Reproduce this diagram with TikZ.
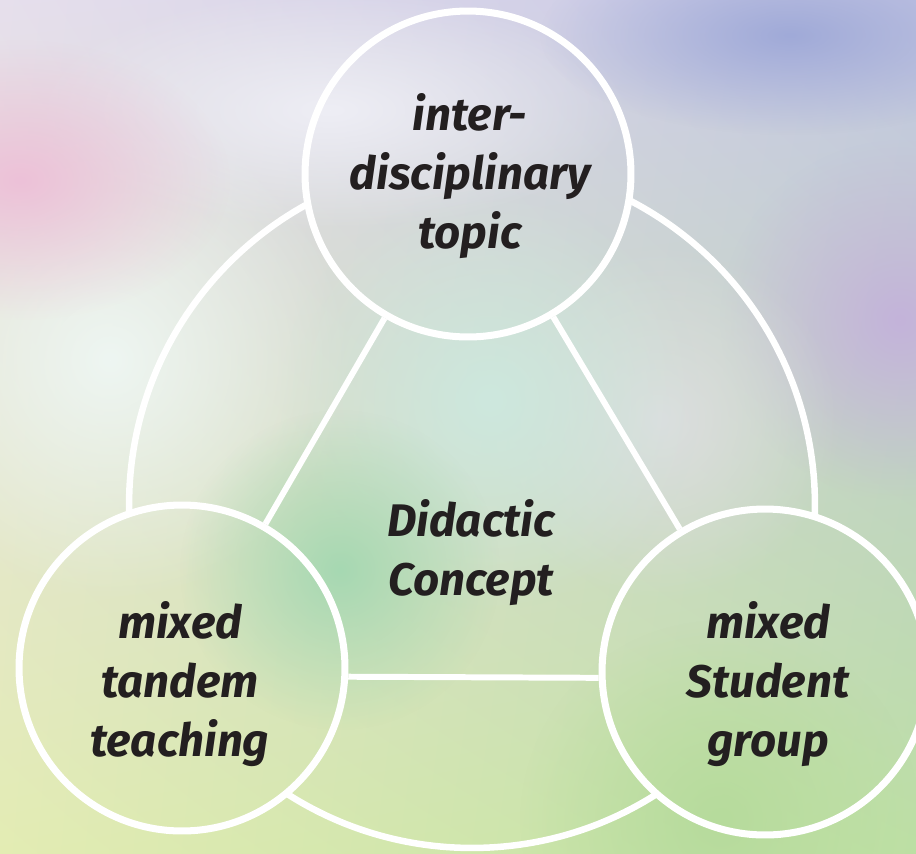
\documentclass[tikz,border=0pt]{standalone}
\usepackage{fontspec}
\usepackage{tikz}
\usetikzlibrary{fadings,shadings}
\newfontfamily\conceptfont{Fira Sans}
\tikzfading[name=blobfade, inner color=transparent!0, outer color=transparent!100]
\definecolor{inkBlack}{HTML}{231F20}
\definecolor{bgUL}{HTML}{E6DFEC}
\definecolor{bgUR}{HTML}{C4C6E4}
\definecolor{bgLL}{HTML}{E3ECB3}
\definecolor{bgLR}{HTML}{BDE0A4}
\definecolor{blobPink}{HTML}{EDC1D8}
\definecolor{blobBlue}{HTML}{A0AAD8}
\definecolor{blobViolet}{HTML}{C4B3DA}
\definecolor{blobMist}{HTML}{EEF6F2}
\definecolor{blobGreen}{HTML}{A6D8B2}
\definecolor{blobTeal}{HTML}{CDE8DE}
\definecolor{blobHaze}{HTML}{EEEEF5}
\definecolor{blobGrey}{HTML}{DDDEDF}
\definecolor{blobLime}{HTML}{B6DB9C}
\def\drawBackdrop{
\shade[upper left=bgUL, upper right=bgUR, lower left=bgLL, lower right=bgLR] (0,0) rectangle (916,853);
\fill[blobMist, path fading=blobfade] (110,360) circle (4.8cm);
\fill[blobHaze, path fading=blobfade] (330,110) ellipse (6cm and 2.4cm);
\fill[blobPink, path fading=blobfade] (20,180) ellipse (4.2cm and 2.8cm);
\fill[blobBlue, path fading=blobfade] (790,35) ellipse (5cm and 2cm);
\fill[blobViolet, path fading=blobfade] (900,320) circle (3.6cm);
\fill[blobGrey, path fading=blobfade] (660,420) circle (3.6cm);
\fill[blobTeal, path fading=blobfade] (490,400) circle (4.2cm);
\fill[blobGreen, path fading=blobfade] (340,570) circle (3.2cm);
\fill[blobLime, path fading=blobfade] (720,820) circle (4.0cm);
}
\tikzset{
bubble/.style={circle, draw=white, line width=4pt, minimum size=6.52cm, inner sep=0pt},
caption/.style={align=center, text=inkBlack, inner sep=0pt,
	font=\conceptfont\bfseries\itshape\fontsize{26}{33.5}\selectfont},
bond/.style={draw=white, line width=3.4pt},
}
\begin{document}
\begin{tikzpicture}[x=0.02cm, y=-0.02cm]
\useasboundingbox (0,0) rectangle (916,853);
\coordinate (m) at (472,505);
\coordinate (t) at (468,174);
\coordinate (l) at (182,668);
\coordinate (r) at (765,672);
\drawBackdrop
\draw[white, line width=3.7pt] (m) circle (6.86cm);
\begin{scope}
	\clip (t) circle (3.26cm) (l) circle (3.26cm) (r) circle (3.26cm);
	\drawBackdrop
\end{scope}
\node[bubble] (T) at (t) {};
\node[bubble] (L) at (l) {};
\node[bubble] (R) at (r) {};
\node[caption] (Ttext) at (470,176) {inter-\\disciplinary\\topic};
\node[caption] (Ltext) at (180,684) {mixed\\tandem\\teaching};
\node[caption] (Rtext) at (768,684) {mixed\\Student\\group};
\node[caption] (D) at (471,553) {Didactic\\Concept};
\draw[bond] (T) -- (L);
\draw[bond] (T) -- (R);
\draw[bond] (L.-3) -- (R.182);
\end{tikzpicture}
\end{document}
